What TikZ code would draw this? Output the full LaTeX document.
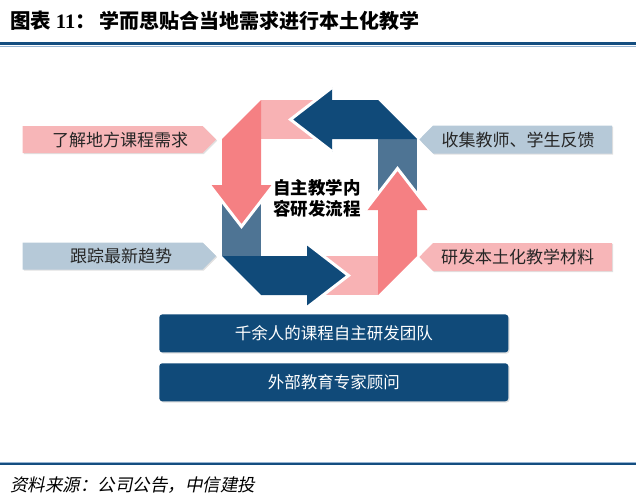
\documentclass[tikz,border=0pt]{standalone}
\usepackage{fontspec}
\setmainfont{Liberation Serif}
\newfontfamily\cjk{Noto Sans CJK SC}
\newfontfamily\cjkit[FakeSlant=0.2]{Noto Sans CJK SC}
\usepackage{tikz}
\usetikzlibrary{positioning,shadows}

\definecolor{navyc}{RGB}{16,74,121}
\definecolor{steelc}{RGB}{78,116,148}
\definecolor{salmonc}{RGB}{245,128,131}
\definecolor{rosec}{RGB}{248,178,180}
\definecolor{tagblue}{RGB}{182,201,216}
\definecolor{tagpink}{RGB}{247,182,184}
\definecolor{rulec}{RGB}{20,78,128}
\definecolor{rulelight}{RGB}{150,180,210}

\begin{document}
\begin{tikzpicture}[
    x=1pt, y=-1pt,
    tag/.style={drop shadow={shadow xshift=1.2pt, shadow yshift=-1.2pt, fill=black!30, opacity=0.4}},
    pinktag/.style={tag, fill=tagpink},
    bluetag/.style={tag, fill=tagblue},
    tagtext/.style={inner sep=0pt, font=\cjk\fontsize{17}{20}\selectfont, text=black!85},
    team/.style={rectangle, rounded corners=3pt, fill=navyc, text=white, minimum width=349pt, minimum height=38pt, inner sep=0pt, font=\cjk\fontsize{16.5}{20}\selectfont, drop shadow={shadow xshift=1.2pt, shadow yshift=-1.2pt, fill=black!30, opacity=0.4}},
    hub/.style={align=center, inner sep=0pt, font=\cjk\bfseries\fontsize{17.5}{21}\selectfont},
    gap/.style={draw=white, line width=3pt, line join=miter}
]
    \useasboundingbox (0,0) rectangle (636,503);

    % Title and rules
    \node[anchor=west, inner sep=0pt, font=\fontsize{20.5}{24}\selectfont] (fig) at (10,21) {{\cjk\bfseries 图表 }{\bfseries 11}{\cjk\bfseries ：}};
    \node[anchor=west, inner sep=0pt, font=\cjk\bfseries\fontsize{20}{24}\selectfont] (title) at (99,21) {学而思贴合当地需求进行本土化教学};
    \draw[rulec, line width=3pt] (0,44) -- (636,44);
    \draw[rulelight, line width=1pt] (0,46.5) -- (636,46.5);

    % Cycle of four bent arrows
    \begin{scope}[shift={(319.5,197.5)}]
        % tails
        \fill[steelc] (58.5,-58.5) rectangle (97.5,0);
        \fill[rosec] (-58.5,-97.5) rectangle (0,-58.5);
        \fill[steelc] (-97.5,0) rectangle (-58.5,58.5);
        \fill[rosec] (0,58.5) rectangle (58.5,97.5);
        % bodies
        \fill[navyc] (-29,-78) -- (12.5,-110) -- (12.5,-97.5) -- (58.5,-97.5) -- (97.5,-58.5) -- (12.5,-58.5) -- (12.5,-46) -- cycle;
        \fill[salmonc] (-78,29) -- (-110,-12.5) -- (-97.5,-12.5) -- (-97.5,-58.5) -- (-58.5,-97.5) -- (-58.5,-12.5) -- (-46,-12.5) -- cycle;
        \fill[navyc] (29,78) -- (-12.5,110) -- (-12.5,97.5) -- (-58.5,97.5) -- (-97.5,58.5) -- (-12.5,58.5) -- (-12.5,46) -- cycle;
        \fill[salmonc] (78,-29) -- (110,12.5) -- (97.5,12.5) -- (97.5,58.5) -- (58.5,97.5) -- (58.5,12.5) -- (46,12.5) -- cycle;
        % white gaps round the heads
        \draw[gap] (12.5,-110) -- (-29,-78) -- (12.5,-46);
        \draw[gap] (-110,-12.5) -- (-78,29) -- (-46,-12.5);
        \draw[gap] (-12.5,110) -- (29,78) -- (-12.5,46);
        \draw[gap] (110,12.5) -- (78,-29) -- (46,12.5);
    \end{scope}
    \node[hub] (hub) at (317,198) {自主教学内\\容研发流程};

    % Side tags
    \fill[pinktag] (22.7,126) -- (202.5,126) -- (216,139.5) -- (202.5,153) -- (22.7,153) -- cycle;
    \fill[bluetag] (22.7,242.5) -- (202.5,242.5) -- (216,256) -- (202.5,269.5) -- (22.7,269.5) -- cycle;
    \fill[bluetag] (612,125.5) -- (433,125.5) -- (419.3,139.5) -- (433,153.5) -- (612,153.5) -- cycle;
    \fill[pinktag] (612,243) -- (433,243) -- (419.3,257) -- (433,271) -- (612,271) -- cycle;
    \node[tagtext] (needs) at (120,140) {了解地方课程需求};
    \node[tagtext] (trends) at (121,256) {跟踪最新趋势};
    \node[tagtext] (feedback) at (518,139.5) {收集教师、学生反馈};
    \node[tagtext] (material) at (517.5,257) {研发本土化教学材料};

    % Teams
    \node[team] (team) at (333.8,333.4) {千余人的课程自主研发团队};
    \node[team, below=10.5pt of team] (experts) {外部教育专家顾问};

    % Source
    \draw[rulelight, line width=1pt] (0,462) -- (636,462);
    \draw[rulec, line width=2.4pt] (0,464) -- (636,464);
    \node[anchor=west, inner sep=0pt, font=\cjkit\fontsize{17.5}{20}\selectfont] (src) at (10,485) {资料来源：公司公告，中信建投};
\end{tikzpicture}
\end{document}
